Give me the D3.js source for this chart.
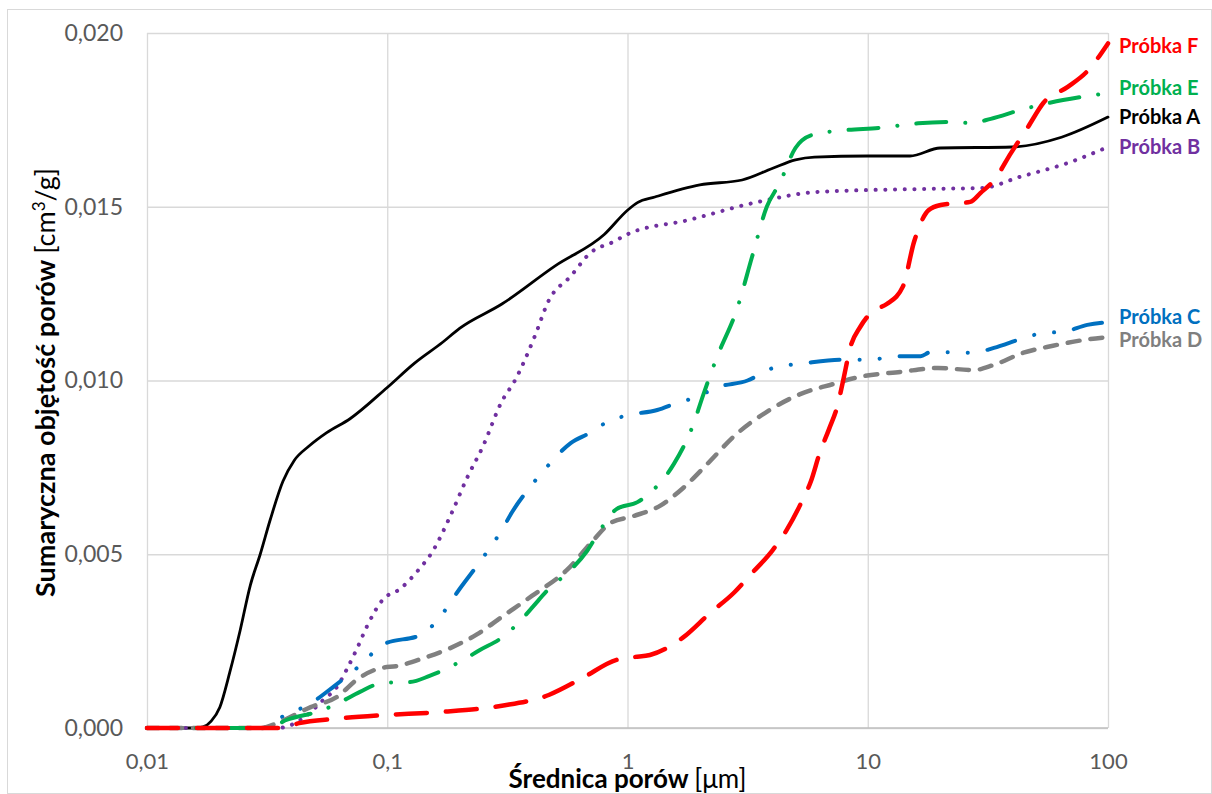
<!DOCTYPE html>
<meta charset="utf-8">
<script src="https://cdnjs.cloudflare.com/ajax/libs/d3/7.8.5/d3.min.js"></script>
<style>
  body { margin: 0; background: #fff; }
  text { font-family: Lato, "Open Sans", sans-serif; }
</style>
<body>
<div id="chart"></div>
</body>
<script>
// pore diameter [um] and cumulative pore volume [cm3/g]
var diamA = [0.01, 0.016, 0.0171, 0.0185, 0.0201, 0.0221, 0.0244, 0.0269, 0.0296, 0.0326, 0.0368, 0.041, 0.047, 0.056, 0.07, 0.1, 0.13, 0.17, 0.2, 0.3, 0.5, 0.8, 1, 1.1, 1.3, 2, 3, 4, 5, 6, 10, 15, 20, 40, 64, 100];
var volA  = [0, 0, 0.00003, 0.0002, 0.0006, 0.0016, 0.0028, 0.0041, 0.0050, 0.0060, 0.0071, 0.0077, 0.0081, 0.0085, 0.0089, 0.0098, 0.0105, 0.0111, 0.0115, 0.0122, 0.0133, 0.0142, 0.0149, 0.01512, 0.01528, 0.01563, 0.01577, 0.0161, 0.01635, 0.01643, 0.01646, 0.01646, 0.01669, 0.01672, 0.0170, 0.01758];

var diamB = [0.01, 0.035, 0.045, 0.054, 0.062, 0.068, 0.075, 0.082, 0.096, 0.113, 0.133, 0.155, 0.183, 0.215, 0.25, 0.3, 0.34, 0.41, 0.47, 0.58, 0.7, 0.88, 1, 1.8, 3.3, 6.3, 16.6, 30, 43, 68, 100];
var volB  = [0, 0, 0.0003, 0.0008, 0.0012, 0.0017, 0.0023, 0.0029, 0.0037, 0.0040, 0.0045, 0.0051, 0.0061, 0.0072, 0.0081, 0.0094, 0.0100, 0.01125, 0.0123, 0.0130, 0.01367, 0.0140, 0.01421, 0.01462, 0.0151, 0.01543, 0.01551, 0.01554, 0.01586, 0.01626, 0.01672];

var diamC = [0.01, 0.03, 0.036, 0.049, 0.06, 0.077, 0.096, 0.14, 0.166, 0.2, 0.244, 0.3, 0.33, 0.4, 0.46, 0.58, 0.7, 0.82, 1, 1.33, 1.6, 1.95, 2.35, 3.16, 4, 5.5, 7.7, 10, 13.8, 16.6, 18.3, 27.6, 33.5, 44.5, 54, 65, 82, 100];
var volC  = [0, 0, 0.0003, 0.00075, 0.0012, 0.0018, 0.0024, 0.0027, 0.0032, 0.0040, 0.0048, 0.0057, 0.0062, 0.0070, 0.0075, 0.0082, 0.0085, 0.0088, 0.0090, 0.00915, 0.00935, 0.00953, 0.0098, 0.0100, 0.01035, 0.0105, 0.0106, 0.0106, 0.0107, 0.0107, 0.01082, 0.0108, 0.01094, 0.01122, 0.01137, 0.0114, 0.0116, 0.01168];

var diamD = [0.01, 0.03, 0.035, 0.048, 0.062, 0.075, 0.091, 0.113, 0.14, 0.183, 0.237, 0.3, 0.4, 0.56, 0.72, 0.85, 1.06, 1.37, 1.7, 2.15, 2.78, 3.8, 5.2, 7.2, 9.2, 13.8, 19.6, 27.6, 33.5, 44.5, 59, 80, 100];
var volD  = [0, 0, 0.00015, 0.0006, 0.0009, 0.0014, 0.0017, 0.0018, 0.0020, 0.0023, 0.0027, 0.0032, 0.0038, 0.00455, 0.0054, 0.0059, 0.0061, 0.0064, 0.0069, 0.0076, 0.0084, 0.0091, 0.0096, 0.0099, 0.0101, 0.01025, 0.01036, 0.0103, 0.01045, 0.0108, 0.0110, 0.01117, 0.01125];

var diamE = [0.01, 0.032, 0.038, 0.053, 0.064, 0.077, 0.096, 0.124, 0.15, 0.2, 0.244, 0.3, 0.36, 0.405, 0.47, 0.58, 0.68, 0.77, 0.9, 1.1, 1.28, 1.56, 1.87, 2.07, 2.35, 2.87, 3.3, 3.8, 4.3, 5, 5.9, 7.9, 11.2, 16.2, 22.6, 26.7, 32.5, 43.5, 65, 100];
var volE  = [0, 0, 0.00023, 0.0005, 0.00075, 0.00104, 0.0013, 0.00132, 0.0015, 0.0019, 0.00225, 0.0026, 0.0031, 0.0035, 0.0040, 0.00455, 0.0051, 0.0057, 0.0063, 0.0065, 0.00685, 0.0076, 0.0087, 0.0096, 0.01065, 0.0121, 0.01356, 0.0150, 0.01568, 0.01669, 0.01707, 0.0172, 0.01727, 0.0174, 0.01744, 0.01741, 0.01753, 0.01779, 0.01807, 0.01827];

var diamF = [0.01, 0.036, 0.043, 0.06, 0.096, 0.166, 0.3, 0.47, 0.65, 0.9, 1.06, 1.24, 1.7, 2.2, 2.78, 3.3, 4, 4.6, 5.3, 5.8, 6.3, 6.9, 7.5, 7.9, 8.5, 9.3, 10.5, 12, 14, 15.6, 17.9, 20.1, 26.7, 29.5, 33.6, 39.5, 46.5, 54, 68, 82, 100];
var volF  = [0, 0, 0.00014, 0.00026, 0.00037, 0.00046, 0.00064, 0.00095, 0.00144, 0.00196, 0.00204, 0.0021, 0.0026, 0.0033, 0.0039, 0.00446, 0.0051, 0.0057, 0.0065, 0.0071, 0.0079, 0.0086, 0.0093, 0.0100, 0.0110, 0.01154, 0.0120, 0.0122, 0.0127, 0.0140, 0.0149, 0.01505, 0.01514, 0.0154, 0.01577, 0.01655, 0.0173, 0.0180, 0.01845, 0.0189, 0.0197];

var seriesNames = ["Próbka A", "Próbka B", "Próbka C", "Próbka D", "Próbka E", "Próbka F"];
var xTicks = [0.01, 0.1, 1, 10, 100];
var xTickLabels = ["0,01", "0,1", "1", "10", "100"];
var yTicks = [0, 0.005, 0.01, 0.015, 0.02];

// line looks (Excel-ish)
var styles = {
  "Próbka A": { color: "#000000", width: 2.8, dash: null },
  "Próbka B": { color: "#7030A0", width: 4, dash: "0.1,9.6" },
  "Próbka C": { color: "#0070C0", width: 4, dash: "29,20,0.1,20,0.1,20" },
  "Próbka D": { color: "#808080", width: 4.5, dash: "12,11" },
  "Próbka E": { color: "#00B050", width: 4, dash: "30,19,0.1,19" },
  "Próbka F": { color: "#FF0000", width: 4.5, dash: "31,19" }
};
var labelNudge = { "Próbka A": 0, "Próbka B": 0, "Próbka C": -5, "Próbka D": 3, "Próbka E": -5, "Próbka F": 3 };

var diams = [diamA, diamB, diamC, diamD, diamE, diamF];
var vols = [volA, volB, volC, volD, volE, volF];
var series = seriesNames.map(function(n, i) {
  return { name: n, values: diams[i].map(function(d, j) { return { d: d, v: vols[i][j] }; }) };
});

var W = 1212, H = 794;
var margin = { top: 33, right: 104, bottom: 66, left: 147 };
var width = W - margin.left - margin.right,
    height = H - margin.top - margin.bottom;

var svg = d3.select("#chart").append("svg")
    .attr("width", W)
    .attr("height", H);

// chart border
svg.append("rect")
    .attr("x", 7.5).attr("y", 9.5)
    .attr("width", W - 8).attr("height", H - 10)
    .attr("fill", "#fff")
    .attr("stroke", "#d9d9d9");

var g = svg.append("g")
    .attr("transform", "translate(" + margin.left + "," + margin.top + ")");

var x = d3.scaleLog().domain([0.01, 100]).range([0, width]);
var y = d3.scaleLinear().domain([0, 0.02]).range([height, 0]);

// Y axis with gridlines
var yAxis = g.append("g")
    .call(d3.axisLeft(y)
        .tickValues(yTicks)
        .tickSize(-width)
        .tickPadding(24)
        .tickFormat(function(d) { return d3.format(".3f")(d).replace(".", ","); }));
yAxis.select(".domain").remove();
yAxis.selectAll("line").attr("stroke", "#d9d9d9").attr("stroke-width", 1.3);
yAxis.selectAll("text").attr("fill", "#595959").style("font-size", "23px");

// X axis with gridlines
var xAxis = g.append("g")
    .attr("transform", "translate(0," + height + ")")
    .call(d3.axisBottom(x)
        .tickValues(xTicks)
        .tickSize(-height)
        .tickPadding(25)
        .tickFormat(function(d, i) { return xTickLabels[i]; }));
xAxis.select(".domain").remove();
xAxis.selectAll("line").attr("stroke", "#d9d9d9").attr("stroke-width", 1.3);
xAxis.selectAll("text").attr("fill", "#595959").style("font-size", "22px");

// bottom axis line a bit darker
g.append("line")
    .attr("x1", 0).attr("x2", width)
    .attr("y1", height).attr("y2", height)
    .attr("stroke", "#bfbfbf").attr("stroke-width", 1.5);

var line = d3.line()
    .x(function(d) { return x(d.d); })
    .y(function(d) { return y(d.v); })
    .curve(d3.curveMonotoneX);

g.selectAll(".series")
    .data(series)
    .enter()
    .append("path")
    .attr("class", "series")
    .attr("fill", "none")
    .attr("stroke", function(d) { return styles[d.name].color; })
    .attr("stroke-width", function(d) { return styles[d.name].width; })
    .attr("stroke-dasharray", function(d) { return styles[d.name].dash; })
    .attr("stroke-linecap", "round")
    .attr("stroke-linejoin", "round")
    .attr("d", function(d) { return line(d.values); });

// series labels at the right end
g.selectAll(".lab")
    .data(series)
    .enter()
    .append("text")
    .attr("class", "lab")
    .attr("x", width + 11)
    .attr("y", function(d) { return y(d.values[d.values.length - 1].v) + labelNudge[d.name]; })
    .attr("dy", "0.35em")
    .attr("fill", function(d) { return styles[d.name].color === "#808080" ? "#7f7f7f" : styles[d.name].color; })
    .style("font-size", "20px")
    .style("font-weight", "bold")
    .text(function(d) { return d.name; });

// axis titles
var xt = svg.append("text")
    .attr("x", margin.left + width / 2)
    .attr("y", 788)
    .attr("text-anchor", "middle")
    .style("font-size", "26px")
    .attr("fill", "#000");
xt.append("tspan").style("font-weight", "bold").text("Średnica porów ");
xt.append("tspan").text("[μm]");

var yt = svg.append("text")
    .attr("transform", "translate(55," + (margin.top + height / 2 + 2) + ") rotate(-90)")
    .attr("text-anchor", "middle")
    .style("font-size", "27px")
    .attr("fill", "#000");
yt.append("tspan").style("font-weight", "bold").text("Sumaryczna objętość porów ");
yt.append("tspan").text("[cm");
yt.append("tspan").attr("dy", -10).style("font-size", "17px").text("3");
yt.append("tspan").attr("dy", 10).text("/g]");
</script>
